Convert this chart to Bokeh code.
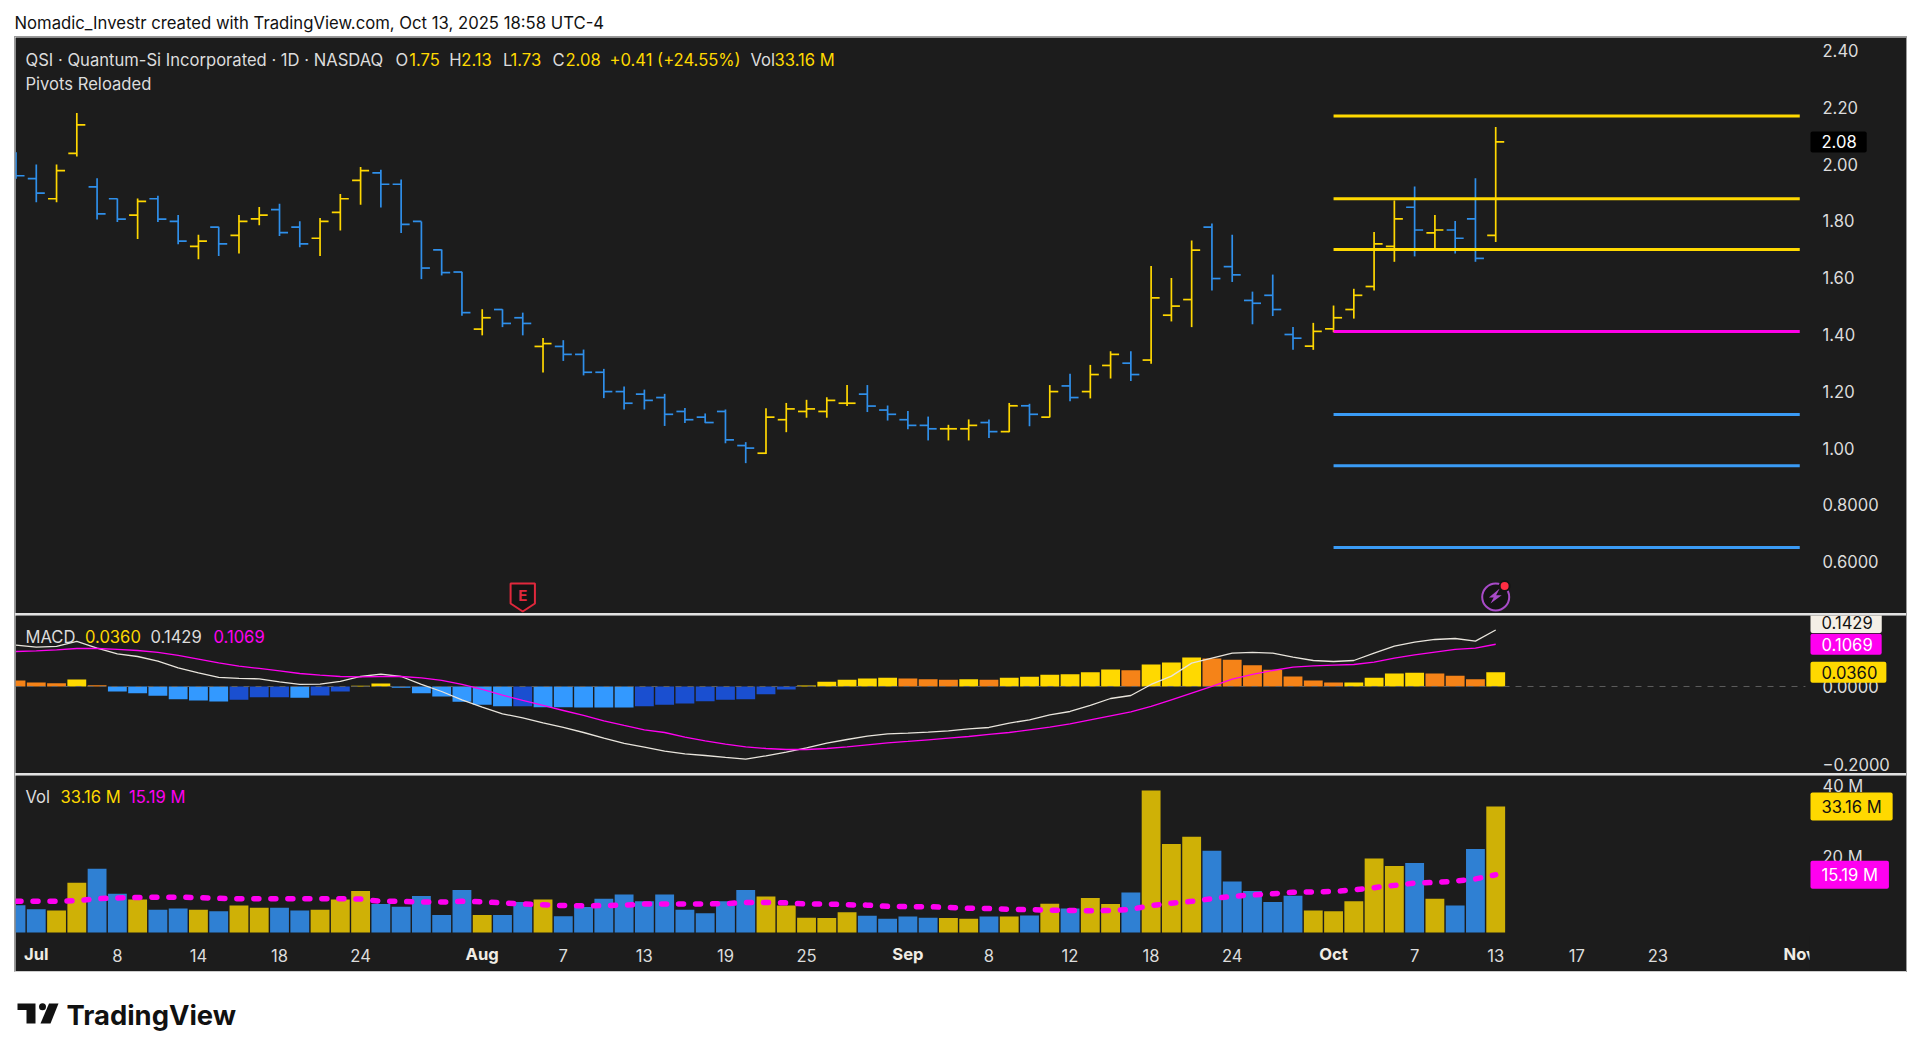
from bokeh.plotting import figure
from bokeh.models import (ColumnDataSource, Label, FixedTicker, Range1d, Div, LinearAxis)
from bokeh.core.properties import value
from bokeh.layouts import column
from bokeh.embed import file_html
from bokeh.resources import INLINE

# ---------------- data ----------------
opens = [1.972,1.949,1.878,2.038,1.920,1.878,1.820,1.878,1.798,1.710,1.778,1.749,1.807,1.840,1.778,1.739,1.830,1.943,1.969,1.929,
         1.798,1.698,1.620,1.419,1.488,1.459,1.358,1.358,1.330,1.267,1.199,1.190,1.178,1.129,1.109,1.129,1.009,0.982,1.100,1.129,
         1.129,1.158,1.190,1.134,1.100,1.080,1.068,1.068,1.090,1.058,1.149,1.109,1.219,1.199,1.291,1.299,1.310,1.468,1.523,1.778,
         1.639,1.520,1.538,1.400,1.359,1.420,1.488,1.569,1.710,1.848,1.758,1.768,1.807,1.749]
highs = [2.042,1.999,1.999,2.180,1.950,1.879,1.879,1.889,1.821,1.751,1.779,1.821,1.849,1.860,1.799,1.810,1.895,1.990,1.980,1.946,
         1.798,1.699,1.621,1.489,1.489,1.477,1.388,1.380,1.347,1.279,1.217,1.206,1.191,1.141,1.122,1.136,1.021,1.140,1.159,1.170,
         1.179,1.222,1.222,1.150,1.131,1.111,1.082,1.101,1.101,1.159,1.156,1.222,1.262,1.293,1.341,1.341,1.641,1.599,1.731,1.791,
         1.751,1.551,1.611,1.426,1.441,1.502,1.561,1.761,1.872,1.921,1.821,1.800,1.950,2.131]
lows = [1.948,1.866,1.866,2.027,1.805,1.796,1.736,1.796,1.718,1.665,1.676,1.685,1.785,1.747,1.707,1.676,1.766,1.857,1.847,1.757,
        1.595,1.608,1.466,1.397,1.426,1.397,1.266,1.307,1.256,1.176,1.136,1.136,1.078,1.088,1.088,1.017,0.947,0.979,1.056,1.107,
        1.107,1.148,1.127,1.097,1.066,1.027,1.027,1.027,1.036,1.056,1.077,1.108,1.165,1.175,1.245,1.236,1.297,1.446,1.426,1.555,
        1.585,1.436,1.465,1.346,1.346,1.408,1.456,1.555,1.656,1.675,1.699,1.685,1.656,1.726]
closes = [1.959,1.898,1.977,2.138,1.825,1.806,1.869,1.806,1.729,1.729,1.719,1.798,1.820,1.759,1.719,1.798,1.878,1.977,1.929,1.788,
          1.634,1.618,1.477,1.459,1.439,1.439,1.368,1.330,1.267,1.199,1.158,1.168,1.119,1.100,1.090,1.029,1.000,1.109,1.138,1.138,
          1.168,1.158,1.148,1.119,1.080,1.068,1.068,1.080,1.058,1.149,1.119,1.199,1.178,1.259,1.330,1.259,1.529,1.500,1.697,1.597,
          1.610,1.510,1.488,1.387,1.411,1.459,1.538,1.719,1.807,1.768,1.768,1.739,1.668,2.078]
volumes = [7.2,6.1,5.8,13.1,16.8,10.2,8.7,6.0,6.3,6.0,5.6,7.1,6.5,6.5,5.8,6.0,8.7,10.9,7.5,6.8,9.6,4.6,11.2,4.6,4.6,8.0,8.7,4.3,6.7,8.9,
           10.0,8.2,10.0,6.0,5.1,8.2,11.2,9.5,7.1,3.9,3.8,5.3,4.4,3.6,4.2,3.9,3.8,3.6,4.2,4.2,4.5,7.6,6.3,9.1,7.5,10.5,37.4,23.3,25.2,21.5,
           13.4,10.9,8.0,9.7,5.8,5.6,8.2,19.5,17.5,18.3,8.9,7.1,22.0,33.16]
vol_ma = [8.2,8.2,8.2,8.4,8.9,9.1,9.2,9.3,9.3,9.2,9.0,8.9,8.9,8.9,8.9,8.9,8.9,8.8,8.2,8.2,8.0,8.0,8.2,8.1,7.8,7.5,7.3,7.1,7.0,7.1,
          7.2,7.5,7.5,7.5,7.5,7.6,7.9,7.9,7.8,7.5,7.5,7.3,7.2,6.9,6.8,6.8,6.6,6.4,6.3,6.1,6.0,5.9,5.8,5.7,5.8,6.1,7.1,7.7,8.2,8.9,
          9.5,9.9,10.2,10.6,10.7,10.8,11.2,11.8,12.4,13.0,13.2,13.5,14.1,15.19]
hist = [.0152,.0101,.0084,.0177,.0034,-.0127,-.0169,-.0236,-.0321,-.0354,-.038,-.0338,-.027,-.027,-.0287,-.0228,-.0127,.0017,.0076,-.0034,
        -.0169,-.0253,-.0388,-.0464,-.0498,-.0498,-.0523,-.0523,-.0532,-.0532,-.0532,-.0498,-.0464,-.043,-.0371,-.0338,-.0321,-.0194,-.0076,.0025,
        .0118,.0169,.0203,.0219,.0203,.0186,.0169,.0186,.0169,.0219,.0245,.0295,.0312,.0363,.043,.0414,.0557,.0608,.0734,.0709,
        .0675,.054,.0422,.0253,.0152,.0101,.0101,.0219,.0329,.0346,.0329,.027,.0186,.036]
hist_kinds = ("oooyo" "bbbbbb" "ddd" "b" "dd" "yy" "bbbbbb" "d" "bbbbb" "dddddddd" "yyyyy" "ooo" "y" "o"
              "yyyyyy" "o" "yyy" "ooooooo" "yyyy" "ooo" "y")
macd_line = [.1046,.0996,.1013,.1139,.097,.0827,.0759,.0641,.0473,.0346,.0228,.0203,.0194,.0118,.0051,.0059,.0127,.0253,.0312,.0253,
             .0051,-.0127,-.0338,-.0523,-.0692,-.0793,-.092,-.1038,-.1165,-.1308,-.1443,-.1536,-.1637,-.1705,-.1747,-.1797,-.184,-.1755,-.1662,-.1553,
             -.1435,-.1342,-.1257,-.1198,-.1181,-.1156,-.1122,-.1072,-.1038,-.0928,-.0844,-.0717,-.0633,-.0481,-.0304,-.0228,.0051,.0262,.0591,.0717,
             .0844,.0861,.0844,.0743,.0658,.0633,.0658,.0844,.1021,.1122,.119,.1215,.1148,.1429]
signal_line = [.0886,.0903,.0928,.0962,.0962,.0937,.0911,.0861,.0785,.0692,.0599,.0515,.0456,.0397,.0329,.0287,.0253,.0245,.0253,.0253,
               .0219,.0152,.0051,-.0076,-.0219,-.0354,-.0481,-.0608,-.0734,-.0869,-.0987,-.1097,-.1165,-.1283,-.1376,-.146,-.1527,-.157,-.1595,-.1595,
               -.157,-.1527,-.1477,-.1426,-.1392,-.135,-.1308,-.1266,-.1215,-.1165,-.1097,-.103,-.0945,-.0844,-.0743,-.0641,-.0506,-.0338,-.0169,0.0,
               .0186,.0304,.0405,.0489,.0523,.054,.0557,.0616,.0717,.0802,.0869,.0937,.097,.1069]
pivot_levels = [2.169, 1.878, 1.699, 1.411, 1.118, 0.938, 0.650]
pivot_kinds = ["y", "y", "y", "m", "b", "b", "b"]
pivot_start, pivot_end = 65, 88

price_ticks = [0.6, 0.8, 1.0, 1.2, 1.4, 1.6, 1.8, 2.0, 2.2, 2.4]
price_labels = ["0.6000", "0.8000", "1.00", "1.20", "1.40", "1.60", "1.80", "2.00", "2.20", "2.40"]
macd_ticks = [-0.197, 0.0]
macd_tick_labels = ["\u22120.2000", "0.0000"]
day_ticks = [5, 9, 13, 17, 27, 31, 35, 39, 48, 52, 56, 60, 69, 73, 77, 81]
day_labels = ["8", "14", "18", "24", "7", "13", "19", "25", "8", "12", "18", "24", "7", "13", "17", "23"]
month_ticks = [1, 23, 44, 65, 88]
month_labels = ["Jul", "Aug", "Sep", "Oct", "Nov"]

# ---------------- styling ----------------
BG = "#1c1c1c"
TXT = "#dcdcdc"
YEL = "#FFD900"
BAR_Y, BAR_B = "#FFD700", "#2F8FEA"
VOL_Y, VOL_B = "#CFB106", "#2F80D3"
MAG = "#FF00F0"
FONT = "Inter"
FS = "16.6px"
W = 1891
X0, X1 = -0.025, 93.266   # full pane width; the price scale sits inside it
SCALE_X = 88.48           # where the plotting area gives way to the price scale
hist_palette = {"y": "#FFD900", "o": "#F58318", "b": "#3399FF", "d": "#1A4FD0"}
pivot_palette = {"y": "#FFD900", "m": "#FF00E8", "b": "#3A9BF5"}


def panel(height, y0, y1):
    p = figure(width=W, height=height, x_range=Range1d(X0, X1), y_range=Range1d(y0, y1),
               y_axis_location="right", x_axis_type=None, output_backend="svg", toolbar_location=None,
               background_fill_color=BG, border_fill_color=BG, outline_line_color=None,
               min_border=0, margin=0)
    p.grid.visible = False
    ax = p.yaxis[0]
    ax.fixed_location = SCALE_X
    ax.axis_line_color = None
    ax.major_tick_line_color = None
    ax.minor_tick_line_color = None
    ax.major_label_text_color = TXT
    ax.major_label_text_font = FONT
    ax.major_label_text_font_size = FS
    ax.major_label_standoff = 7
    return p


def run(p, xpage, ypage, text, color, frame_bottom, frame_left=15, style="normal"):
    p.add_layout(Label(x=xpage - frame_left, y=frame_bottom - ypage, x_units="screen", y_units="screen",
                       text=text, text_color=color, text_font=FONT, text_font_size=FS,
                       text_font_style=style, text_baseline="middle", text_align="left"))


def tag(p, y, text, fill, color, pad_right=9):
    p.add_layout(Label(x=SCALE_X, y=y, text=text, text_color=color, text_font=FONT, text_font_size=FS,
                       text_baseline="middle", text_align="left", x_offset=1,
                       background_fill_color=fill, border_radius=2, padding=(11, pad_right, 4, 4)))


idx = list(range(len(opens)))
up = [c >= o for o, c in zip(opens, closes)]
bar_col = [BAR_Y if u else BAR_B for u in up]
vol_col = [VOL_Y if u else VOL_B for u in up]

# ---------------- main price pane ----------------
main = panel(576, 0.4176, 2.4458)
src = ColumnDataSource(dict(x=idx, l=[i - 0.42 for i in idx], r=[i + 0.42 for i in idx],
                            o=opens, h=highs, lo=lows, c=closes, col=bar_col))
main.segment("x", "lo", "x", "h", source=src, line_color="col", line_width=1.7)
main.segment("l", "o", "x", "o", source=src, line_color="col", line_width=1.7)
main.segment("x", "c", "r", "c", source=src, line_color="col", line_width=1.7)
main.segment([pivot_start] * 7, pivot_levels, [pivot_end] * 7, pivot_levels,
             line_color=[pivot_palette[k] for k in pivot_kinds], line_width=3)
main.yaxis[0].ticker = FixedTicker(ticks=price_ticks)
main.yaxis[0].major_label_overrides = dict(zip(price_ticks, price_labels))

mb = 613
x = [25, 395, 408.7, 448.7, 460.8, 502.5, 510, 552, 565, 609, 750, 774]
t = ["QSI · Quantum-Si Incorporated · 1D · NASDAQ", "O", "1.75", "H", "2.13", "L", "1.73", "C", "2.08",
     "+0.41 (+24.55%)", "Vol", "33.16 M"]
c = [TXT, TXT, YEL, TXT, YEL, TXT, YEL, TXT, YEL, YEL, TXT, YEL]
for a, b, d in zip(x, t, c):
    run(main, a, 59, b, d, mb)
run(main, 25, 83, "Pivots Reloaded", TXT, mb)
tag(main, closes[-1], "2.08", "#000000", "#ffffff", pad_right=10)

# earnings marker and flash icon (decorations on the time scale)
main.patch([24.4, 25.6, 25.6, 25, 24.4, 24.4], [0.523, 0.523, 0.4528, 0.4246, 0.4528, 0.523],
           fill_color="#141414", line_color="#E0283C", line_width=2)
main.text([25], [0.480], text=["E"], text_color="#E0283C", text_font=value(FONT), text_font_style="bold",
          text_font_size="15px", text_align="center", text_baseline="middle")
main.scatter([73], [0.4757], size=27, marker="circle", fill_color="#141414", line_color="#A84BC8", line_width=2)
bx = [4, -6.8, -2, -5.2, 6, 0.4]
by = [-8.4, 0.6, 0.6, 6.6, -1.8, -1.8]
main.patch([73 + v / 20.27 for v in bx], [0.4757 - v / 284 for v in by], fill_color="#A84BC8", line_color=None)
main.scatter([73.44], [0.514], size=10, marker="circle", fill_color="#FF2E43", line_color="#141414", line_width=2)

# ---------------- MACD pane ----------------
macd = panel(158, -0.2203, 0.1797)
macd.vbar(x=idx, top=hist, bottom=0, width=0.93, fill_color=[hist_palette[k] for k in hist_kinds], line_color=None)
macd.segment([X0], [0], [SCALE_X - 0.2], [0], line_color="#5e5e5e", line_dash="6 6", line_width=1)
macd.line(idx, macd_line, line_color="#e8e4dc", line_width=1.3)
macd.line(idx, signal_line, line_color=MAG, line_width=1.3)
macd.yaxis[0].ticker = FixedTicker(ticks=macd_ticks)
macd.yaxis[0].major_label_overrides = dict(zip(macd_ticks, macd_tick_labels))
mb = 773
run(macd, 25, 636, "MACD", TXT, mb)
run(macd, 84.5, 636, "0.0360", YEL, mb)
run(macd, 150, 636, "0.1429", TXT, mb)
run(macd, 213, 636, "0.1069", MAG, mb)
tag(macd, 0.162, "0.1429", "#F5EFE6", "#111111")
tag(macd, 0.1069, "0.1069", MAG, "#ffffff")
tag(macd, 0.036, "0.0360", YEL, "#111111")

# ---------------- volume pane (includes the time scale) ----------------
vol = panel(196, -10.263, 41.32)
vol.vbar(x=idx, top=volumes, bottom=0, width=0.93, fill_color=vol_col, line_color=None)
vol.line(idx, vol_ma, line_color=MAG, line_width=5.5, line_dash="5 12", line_cap="round")
vol.yaxis[0].ticker = FixedTicker(ticks=[20, 40])
vol.yaxis[0].major_label_overrides = {20: "20 M", 40: "40 M"}
xax = LinearAxis(ticker=FixedTicker(ticks=day_ticks), major_label_overrides=dict(zip(day_ticks, day_labels)),
                 fixed_location=0,
                 axis_line_color=None, major_tick_line_color=None, minor_tick_line_color=None,
                 major_label_text_color=TXT, major_label_text_font=FONT, major_label_text_font_size=FS,
                 major_label_standoff=10)
vol.add_layout(xax, "below")
vol.text(month_ticks, [-5.7] * len(month_ticks), text=month_labels, text_color="#f0ece4", text_font=value(FONT),
         text_font_size=FS, text_font_style="bold", text_align="center", text_baseline="middle")
vol.quad(left=[SCALE_X], right=[X1], bottom=[-10.263], top=[-1], fill_color=BG, line_color=None)
mb = 971
run(vol, 25, 796, "Vol", TXT, mb)
run(vol, 60, 796, "33.16 M", YEL, mb)
run(vol, 128.6, 796, "15.19 M", MAG, mb)
tag(vol, 33.16, "33.16 M", YEL, "#111111", pad_right=11)
tag(vol, 15.19, "15.19 M", MAG, "#ffffff", pad_right=11)


def sep():
    return Div(width=W, height=2, margin=0, styles={"background-color": "#e2e2e2"})


stack = column(main, sep(), macd, sep(), vol, spacing=0, margin=(0, 0, 0, 7),
               styles={"outline": "1px solid #9a9a9a"})

# ---------------- header / footer ----------------
head = figure(width=1892, height=29, x_range=Range1d(0, 1892), y_range=Range1d(29, 0), x_axis_type=None, y_axis_type=None,
              output_backend="svg", toolbar_location=None, outline_line_color=None, margin=(0, 0, 0, 6),
              min_border=0, background_fill_color="#ffffff", border_fill_color="#ffffff")
head.grid.visible = False
head.add_layout(Label(x=0, y=14, text="Nomadic_Investr created with TradingView.com, Oct 13, 2025 18:58 UTC-4",
                      text_color="#111111", text_font=FONT, text_font_size="16.7px", text_baseline="middle"))

foot = figure(width=1892, height=76, x_range=Range1d(14, 1906), y_range=Range1d(1047, 971), x_axis_type=None, y_axis_type=None,
              output_backend="svg", toolbar_location=None, outline_line_color=None, margin=(0, 0, 0, 6),
              min_border=0, background_fill_color="#ffffff", border_fill_color="#ffffff")
foot.grid.visible = False
LOGO = "#111111"
foot.patch([17, 35, 35, 26, 26, 17], [1003, 1003, 1023, 1023, 1009.5, 1009.5], fill_color=LOGO, line_color=None)
foot.scatter([42], [1006.3], size=7, marker="circle", fill_color=LOGO, line_color=None)
foot.patch([48.5, 58, 50, 40], [1003, 1003, 1023, 1023], fill_color=LOGO, line_color=None)
foot.add_layout(Label(x=66, y=1014, text="TradingView", text_color=LOGO, text_font=FONT, text_font_size="27.4px",
                      text_font_style="bold", text_baseline="middle"))

page = column(head, stack, foot, spacing=0, margin=(8, 0, 0, 8))
open("out.html", "w").write(file_html(page, INLINE))
